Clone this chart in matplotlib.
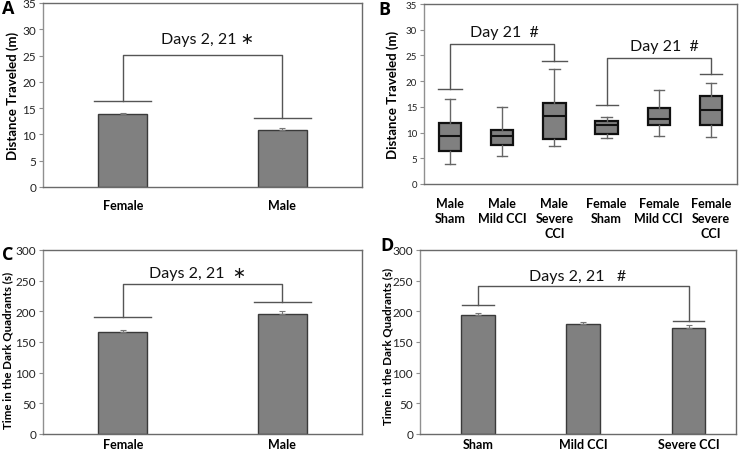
import matplotlib
matplotlib.use("Agg")
import matplotlib.pyplot as plt

plt.rcParams['font.family'] = ['Lato', 'DejaVu Sans']

# ---- Data ----
a_categories = ["Female", "Male"]
a_means = [13.9, 10.8]
a_err = [0.15, 0.4]

b_categories = ["Male\nSham", "Male\nMild CCI", "Male\nSevere\nCCI",
                "Female\nSham", "Female\nMild CCI", "Female\nSevere\nCCI"]
b_whislo = [3.9, 5.4, 7.3, 8.9, 9.4, 9.1]
b_q1 = [6.5, 7.6, 8.7, 9.8, 11.4, 11.5]
b_med = [9.25, 9.3, 13.2, 11.5, 12.6, 14.4]
b_q3 = [11.9, 10.5, 15.8, 12.2, 14.8, 17.2]
b_whishi = [16.6, 14.9, 22.4, 13.0, 18.3, 19.6]

c_categories = ["Female", "Male"]
c_means = [167, 196]
c_err = [3, 4]

d_categories = ["Sham", "Mild CCI", "Severe CCI"]
d_means = [193.5, 179.5, 172.5]
d_err = [3.5, 3.5, 4.5]

# significance brackets: (left idx, right idx, top y, left leg end, right leg end, label)
a_bracket = (0, 1, 25.2, 16.4, 13.2, "Days 2, 21 \u2217")
b_brackets = [(0, 2, 27.3, 18.4, 23.9, "Day 21  #"),
              (3, 5, 24.5, 15.3, 21.3, "Day 21  #")]
c_bracket = (0, 1, 245, 191, 215, "Days 2, 21  \u2217")
d_bracket = (0, 2, 242, 210, 185, "Days 2, 21   #")

BAR = '#808080'
EDGE = '#3a3a3a'
SPINE = '#6a6a6a'
LINE = '#555555'

fig = plt.figure(figsize=(7.41, 4.52), dpi=100)

def style_ax(ax, ymax, ystep, ysize=8.5):
    for s in ax.spines.values():
        s.set_color(SPINE)
        s.set_linewidth(1.0)
    ax.spines['left'].set_color('#909090')
    ax.set_ylim(0, ymax)
    ax.set_yticks(range(0, ymax + 1, ystep))
    ax.tick_params(axis='y', direction='out', length=3, width=0.8, color='#909090',
                   labelsize=ysize, labelcolor='#222222', pad=2)
    ax.tick_params(axis='x', length=0, labelsize=9, pad=6)
    for lab in ax.get_xticklabels():
        lab.set_fontweight('bold')

def bracket(ax, xs, br, capw, fs, ty, tx=None):
    i, j, top, l_end, r_end, label = br
    x1, x2 = xs[i], xs[j]
    ax.plot([x1, x1, x2, x2], [l_end, top, top, r_end], color=LINE, lw=1.0)
    ax.plot([x1 - capw / 2, x1 + capw / 2], [l_end, l_end], color=LINE, lw=1.0)
    ax.plot([x2 - capw / 2, x2 + capw / 2], [r_end, r_end], color=LINE, lw=1.0)
    if tx is None:
        tx = (x1 + x2) / 2
    ax.text(tx, ty, label, ha='center', va='center', fontsize=fs, color='#111111')

def barplot(ax, cats, means, errs, width):
    xs = list(range(len(cats)))
    ax.bar(xs, means, width=width, color=BAR, edgecolor=EDGE, linewidth=1.0, zorder=2)
    ax.errorbar(xs, means, yerr=[[0] * len(errs), errs], fmt='none', ecolor='#777777',
                elinewidth=0.8, capsize=2.5, capthick=0.8, zorder=3)
    ax.set_xticks(xs)
    ax.set_xticklabels(cats)
    return xs

# ---- Panel A ----
axA = fig.add_axes([43 / 741, 1 - 188 / 452, 319 / 741, 184 / 452])
xsA = barplot(axA, a_categories, a_means, a_err, 0.31)
axA.set_xlim(-0.5, 1.5)
style_ax(axA, 35, 5)
axA.tick_params(axis='x', pad=9)
axA.set_ylabel("Distance Traveled (m)", fontsize=9.5, fontweight='bold')
axA.yaxis.set_label_coords((19 - 43) / 319, 0.5)
bracket(axA, xsA, a_bracket, 0.36, 11.5, 28.1, tx=0.53)

# ---- Panel B ----
axB = fig.add_axes([424 / 741, 1 - 185 / 452, 313 / 741, 180 / 452])
stats = []
for k in range(len(b_categories)):
    stats.append(dict(med=b_med[k], q1=b_q1[k], q3=b_q3[k],
                      whislo=b_whislo[k], whishi=b_whishi[k], fliers=[]))
xsB = list(range(len(b_categories)))
axB.bxp(stats, positions=xsB, widths=0.43, patch_artist=True, showfliers=False,
        boxprops=dict(facecolor=BAR, edgecolor='#111111', linewidth=1.6),
        medianprops=dict(color='#111111', linewidth=1.5),
        whiskerprops=dict(color='#666666', linewidth=1.0),
        capprops=dict(color='#666666', linewidth=1.0), capwidths=0.2)
axB.set_xlim(-0.5, 5.5)
axB.set_xticks(xsB)
axB.set_xticklabels(b_categories, va='top', linespacing=1.35)
style_ax(axB, 35, 5, ysize=7)
axB.tick_params(axis='x', pad=9)
axB.set_ylabel("Distance Traveled (m)", fontsize=9.5, fontweight='bold')
axB.yaxis.set_label_coords((399 - 424) / 313, 0.5)
bracket(axB, xsB, b_brackets[0], 0.47, 11.5, 29.6, tx=1.05)
bracket(axB, xsB, b_brackets[1], 0.42, 11.5, 26.8, tx=4.1)

# ---- Panel C ----
axC = fig.add_axes([43 / 741, 1 - 435 / 452, 319 / 741, 184 / 452])
xsC = barplot(axC, c_categories, c_means, c_err, 0.31)
axC.set_xlim(-0.5, 1.5)
style_ax(axC, 300, 50)
axC.tick_params(axis='x', pad=3)
axC.set_ylabel("Time in the Dark Quadrants (s)", fontsize=8.3, fontweight='bold')
axC.yaxis.set_label_coords((13 - 43) / 319, 0.46)
bracket(axC, xsC, c_bracket, 0.36, 11.5, 262, tx=0.47)

# ---- Panel D ----
axD = fig.add_axes([420 / 741, 1 - 435 / 452, 316 / 741, 184 / 452])
xsD = barplot(axD, d_categories, d_means, d_err, 0.32)
axD.set_xlim(-0.55, 2.45)
style_ax(axD, 300, 50)
axD.tick_params(axis='x', pad=3)
axD.set_ylabel("Time in the Dark Quadrants (s)", fontsize=8.3, fontweight='bold')
axD.yaxis.set_label_coords((393 - 420) / 316, 0.48)
bracket(axD, xsD, d_bracket, 0.3, 11.5, 258, tx=0.95)

# Panel letters
for lx, ly, letter in [(2, 9, "A"), (378, 10, "B"), (2, 255, "C"), (380, 246, "D")]:
    fig.text(lx / 741, 1 - ly / 452, letter, fontsize=13, fontweight='bold',
             ha='left', va='center', family=['Open Sans', 'DejaVu Sans'])

fig.savefig("out.png", dpi=100)
